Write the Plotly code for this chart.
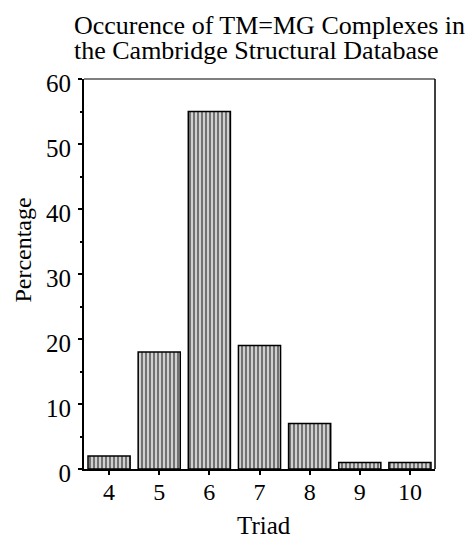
import plotly.graph_objects as go

triads = ["4", "5", "6", "7", "8", "9", "10"]
percentages = [2, 18, 55, 19, 7, 1, 1]
y_ticks = [0, 10, 20, 30, 40, 50, 60]
title_lines = ["Occurence of TM=MG Complexes in", "the Cambridge Structural Database"]

FONT = "Liberation Serif, Times New Roman, serif"

fig = go.Figure()
fig.add_trace(go.Bar(
    x=triads, y=percentages,
    marker=dict(
        color="#c0c0c0",
        line=dict(color="black", width=1.5),
        pattern=dict(shape="|", fgcolor="#5a5a5a", bgcolor="#d0d0d0", size=4, solidity=0.4),
    ),
    width=0.84,
))

annotations = [
    dict(text=title_lines[0], xref="paper", yref="paper", x=0, xshift=-12, y=1, yshift=54,
         xanchor="left", yanchor="middle", showarrow=False,
         font=dict(family=FONT, size=26, color="black")),
    dict(text=title_lines[1], xref="paper", yref="paper", x=0, xshift=-12, y=1, yshift=29,
         xanchor="left", yanchor="middle", showarrow=False,
         font=dict(family=FONT, size=26, color="black")),
    dict(text="Percentage", xref="paper", yref="paper", x=0, xshift=-61, y=0.56,
         xanchor="center", yanchor="middle", textangle=-90, showarrow=False,
         font=dict(family=FONT, size=24, color="black")),
    dict(text="Triad", xref="paper", yref="paper", x=0.5, xshift=4, y=0, yshift=-56,
         xanchor="center", yanchor="middle", showarrow=False,
         font=dict(family=FONT, size=25, color="black")),
]

fig.update_layout(
    template="none",
    width=476, height=538,
    paper_bgcolor="white", plot_bgcolor="white",
    margin=dict(l=84, r=41, t=79, b=69),
    font=dict(family=FONT, color="black", size=24),
    showlegend=False,
    annotations=annotations,
)
fig.update_xaxes(
    type="category", range=[-0.5, 6.5], automargin=False,
    showline=True, linecolor="black", linewidth=2,
    ticks="outside", ticklen=4, tickwidth=1.5, tickcolor="black",
    tickfont=dict(size=24), showgrid=False, ticklabelstandoff=-4,
)
fig.update_yaxes(
    range=[0, 60], tickvals=y_ticks, automargin=False,
    showline=True, linecolor="black", linewidth=2,
    ticks="outside", ticklen=4, tickwidth=1.5, tickcolor="black",
    minor=dict(tickvals=[5, 15, 25, 35, 45, 55], ticks="outside", ticklen=2, tickcolor="black"),
    tickfont=dict(size=25), showgrid=False, zeroline=False, ticklabelstandoff=2,
    ticklabelshift=4,
)
# frame top and right
fig.add_shape(type="line", xref="paper", yref="paper", x0=0, x1=1, y0=1, y1=1,
              line=dict(color="#555555", width=1.5))
fig.add_shape(type="line", xref="paper", yref="paper", x0=1, x1=1, y0=0, y1=1,
              line=dict(color="black", width=1.5))

fig.write_html(
    "out.html",
    config={"displayModeBar": False},
    post_script="document.body.style.margin='0';document.body.style.overflow='hidden';",
)
